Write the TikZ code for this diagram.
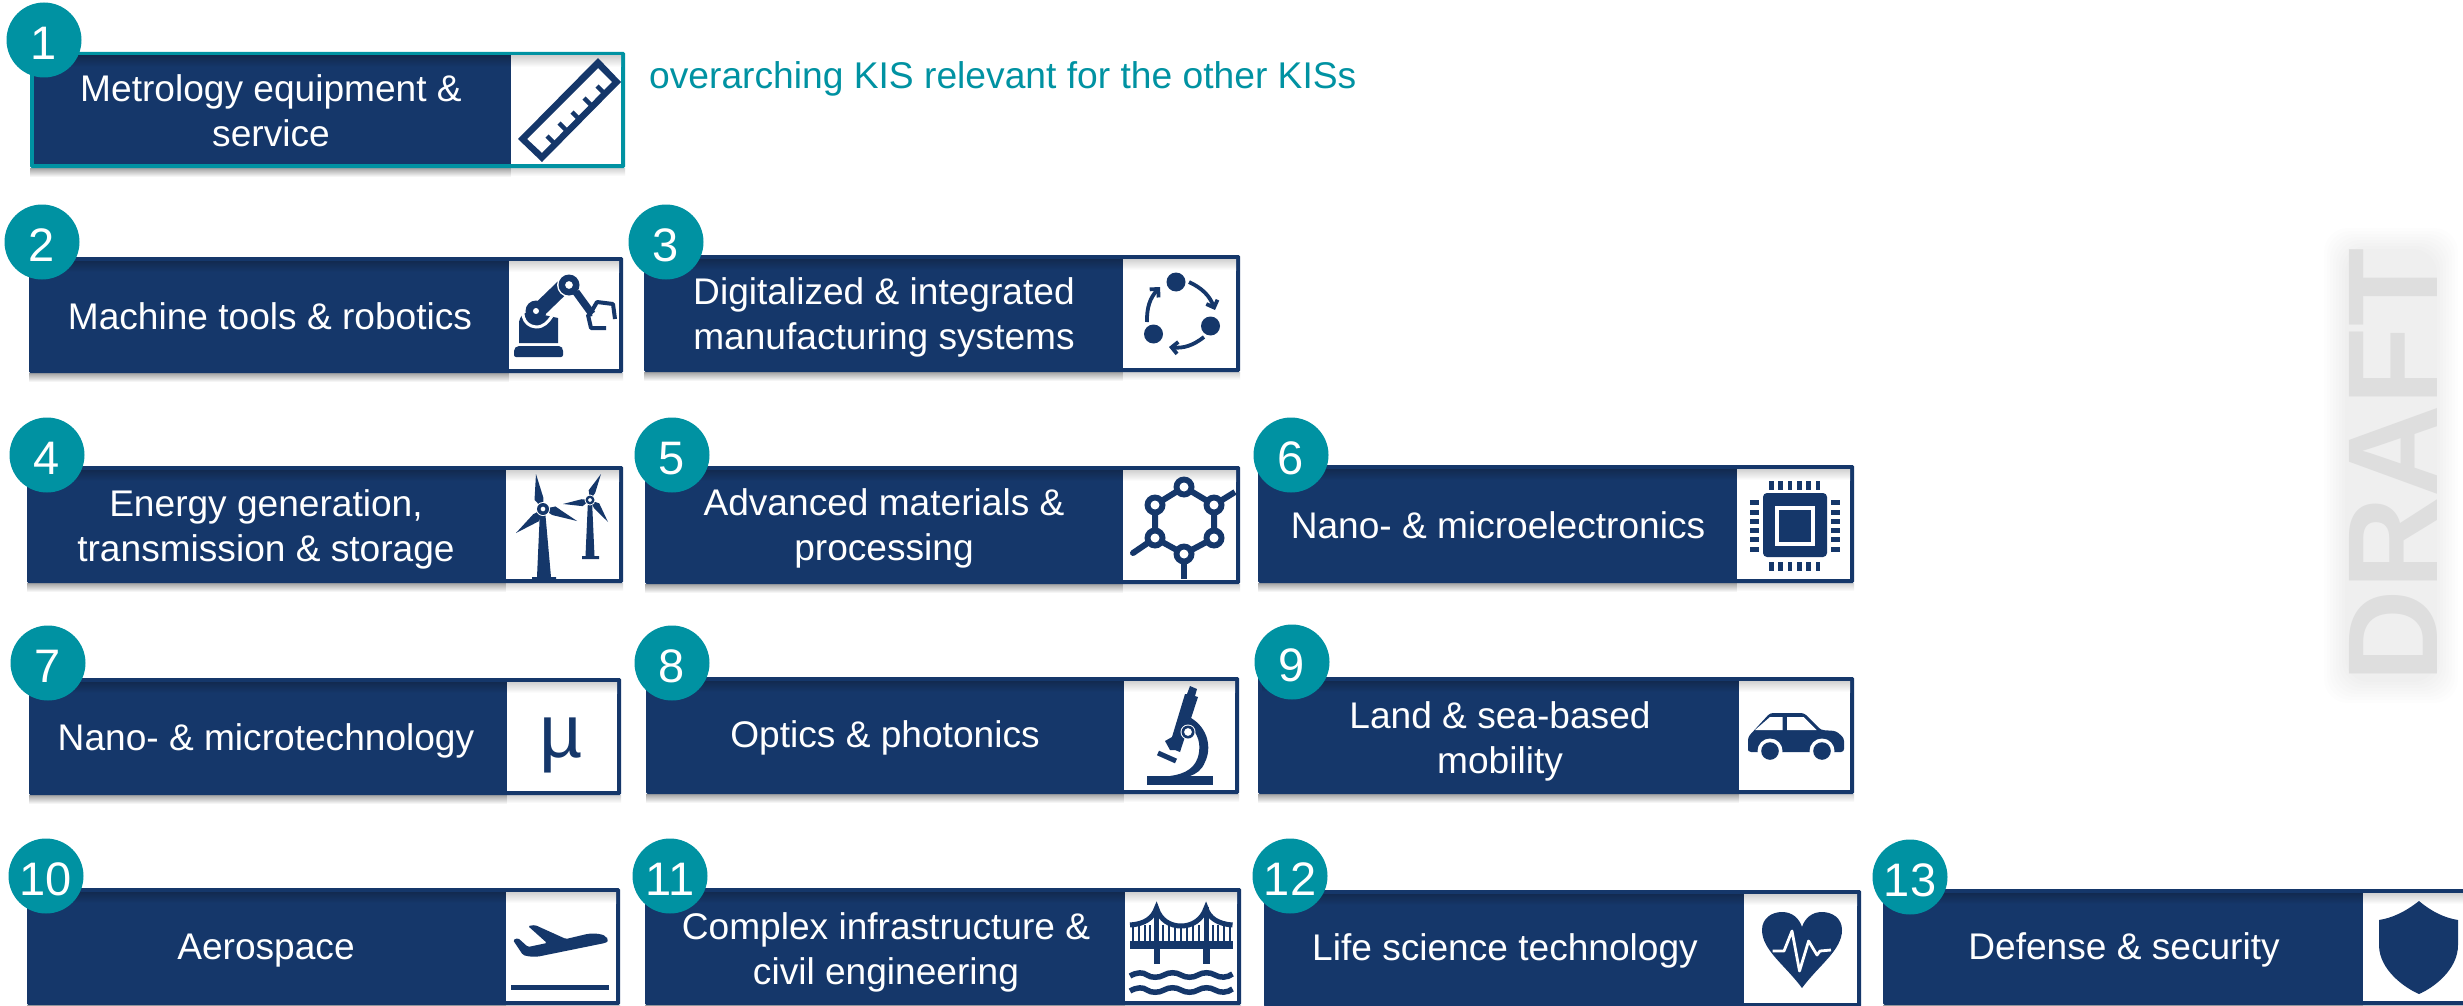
\documentclass[tikz,border=0pt]{standalone}
\usepackage{fontspec}
\setmainfont{Liberation Sans}
\usetikzlibrary{calc,arrows.meta,shapes.geometric}
\definecolor{navy}{HTML}{15376A}
\definecolor{navydark}{HTML}{122A50}
\definecolor{teal1}{HTML}{0092A2}
\definecolor{draftgray}{HTML}{DEDEDE}
\tikzset{
  numdot/.style={circle,fill=teal1,text=white,minimum size=75pt,inner sep=0pt,text height=39pt,text depth=0pt,font=\fontsize{47}{47}\selectfont},
  kislabel/.style={text=white,align=center,inner sep=0pt,anchor=base,yshift=-1.5pt,font=\fontsize{37.1}{45}\selectfont},
  halo/.style={fill=black,fill opacity=.009},
}
\newcommand{\kisbox}[6]{%
  \shade[top color=black!36,bottom color=white] (#1,#4) rectangle (#5,#4+9);
  \shade[top color=black!18,bottom color=white] (#5,#4) rectangle (#3,#4+8);
  \fill[#6,rounded corners=1.5pt] (#1,#2) rectangle (#3,#4);
  \fill[navy] (#1+4,#2+4) rectangle (#5,#4-4);
  \shade[top color=navydark,bottom color=navy] (#1+4,#2+4) rectangle (#5,#2+15);
  \fill[white] (#5,#2+4) rectangle (#3-4,#4-4);
  \shade[top color=black!18,bottom color=white] (#5,#2+4) rectangle (#3-4,#2+15);
}
\newcommand{\kistext}[4]{\node[kislabel] (t#1) at (#2,#3) {#4};}
\newcommand{\kisnum}[4]{\node[numdot] (c#1) at (#2,#3) {#4};}
\newcommand{\blade}[5]{\fill[navy] (#1,#2) -- ($(#1,#2)!.3!(#3,#4)!#5!90:(#3,#4)$) -- (#3,#4) -- ($(#1,#2)!.3!(#3,#4)!.4*#5!-90:(#3,#4)$) -- cycle;}
\begin{document}
\begin{tikzpicture}[x=1pt,y=-1pt]
\useasboundingbox (0,0) rectangle (2463,1006);
\fill[white] (0,0) rectangle (2463,1006);

% DRAFT halo and word
\foreach \h in {0,3,...,21}
  \fill[halo,rounded corners=24pt] (2324+\h,228+\h) rectangle (2458-\h,703-\h);
\node[rotate=90,text=draftgray,inner sep=0pt,font=\fontsize{128}{128}\selectfont\bfseries] (draft) at (2393,465.5) {DRAFT};

% boxes
\kisbox{30}{52}{625}{168}{511}{teal1}
\kisbox{29}{257}{623}{373}{509}{navy}
\kisbox{644}{255}{1240}{372}{1123}{navy}
\kisbox{27}{466}{623}{583}{506}{navy}
\kisbox{645}{466}{1240}{584}{1123}{navy}
\kisbox{1258}{465}{1854}{583}{1737}{navy}
\kisbox{29}{678}{621}{795}{507}{navy}
\kisbox{646}{677}{1239}{794}{1124}{navy}
\kisbox{1258}{677}{1854}{794}{1739}{navy}
\kisbox{27}{888}{620}{1005}{506}{navy}
\kisbox{645}{888}{1241}{1005}{1125}{navy}
\kisbox{1264}{890}{1861}{1007}{1744}{navy}
\kisbox{1883}{889}{2475}{1005}{2363}{navy}

% labels
\kistext{1}{271}{145}{Metrology equipment \&\\service}
\kistext{2}{270}{328}{Machine tools \& robotics}
\kistext{3}{884}{348}{Digitalized \& integrated\\manufacturing systems}
\kistext{4}{266}{560}{Energy generation,\\transmission \& storage}
\kistext{5}{884}{559}{Advanced materials \&\\processing}
\kistext{6}{1498}{537}{Nano- \& microelectronics}
\kistext{7}{266}{749}{Nano- \& microtechnology}
\kistext{8}{885}{746}{Optics \& photonics}
\kistext{9}{1500}{772}{Land \& sea-based\\mobility}
\kistext{10}{266}{958}{Aerospace}
\kistext{11}{886}{983}{Complex infrastructure \&\\civil engineering}
\kistext{12}{1505}{959}{Life science technology}
\kistext{13}{2124}{958}{Defense \& security}

\node[text=teal1,inner sep=0pt,anchor=base west,font=\fontsize{37.2}{45}\selectfont] (over) at (649,88.5) {overarching KIS relevant for the other KISs};

% numbers
\kisnum{1}{44}{40}{1}
\kisnum{2}{42}{242}{2}
\kisnum{3}{666}{242}{3}
\kisnum{4}{47}{455}{4}
\kisnum{5}{672}{455}{5}
\kisnum{6}{1291}{455}{6}
\kisnum{7}{48}{663}{7}
\kisnum{8}{672}{663}{8}
\kisnum{9}{1292}{662}{9}
\kisnum{10}{46}{876}{10}
\kisnum{11}{670}{876}{11}
\kisnum{12}{1290}{876}{12}
\kisnum{13}{1910}{877}{13}

% ruler
\fill[navy,even odd rule] (598,58) -- (621,82) -- (542,162) -- (518,139) -- cycle
  (598,68) -- (612,82) -- (542,153) -- (527,139) -- cycle;
\foreach \a/\b in {597/86,584/98,572/112,559/123,547/136}
  \draw[navy,line width=4.5pt] (\a,\b) -- (\a+7,\b+7);

% robot
\fill[navy,rounded corners=2pt] (514,357) -- (514,349) -- (517,346) -- (561,346) -- (563,349) -- (563,357) -- cycle;
\fill[navy] (519,343) -- (519,322) .. controls (520,316) and (524,312) .. (530,312) -- (558,318) -- (558,343) -- cycle;
\draw[white,line width=3pt] (526,302) .. controls (520,310) and (522,326) .. (536,327) .. controls (544,327) and (548,322) .. (552,316);
\draw[navy,line width=15pt] (538,311) -- (567,283);
\fill[navy] (536,311) circle (10.5);
\fill[white] (536,311) circle (3);
\fill[white] (569,285) circle (12);
\fill[navy,even odd rule] (569,285) circle (10.5) (569,285) circle (4);
\draw[navy,line width=7.5pt] (576,292) -- (592,314);
\draw[navy,line width=4pt,line join=round] (590,314) -- (597,302) -- (613,304) -- (615,319);
\draw[navy,line width=4pt,line join=round] (592,314) -- (588,315) -- (591,328) -- (606,328);

% cycle
\fill[navy] (1176,282) circle (9.5);
\fill[navy] (1210.5,326) circle (9.5);
\fill[navy] (1153.5,334) circle (9.5);
\draw[navy,line width=3.8pt,-{Straight Barb[length=6pt,width=12pt]}] (1189,282) to[bend left=22] (1215,310);
\draw[navy,line width=3.8pt,-{Straight Barb[length=6pt,width=12pt]}] (1204,337) to[bend left=22] (1169,347);
\draw[navy,line width=3.8pt,-{Straight Barb[length=6pt,width=12pt]}] (1147,322) to[bend left=22] (1160,287);

% turbines
\fill[navy] (540,510) -- (545,510) -- (551,577) -- (556,577) -- (556,580) -- (532,580) -- (532,577) -- (537,577) -- cycle;
\blade{543}{509}{536}{474}{6.5pt}
\blade{543}{509}{577}{521}{6.5pt}
\blade{543}{509}{516}{533}{6.5pt}
\fill[white] (543,509) circle (7);
\fill[navy,even odd rule] (543,509) circle (6) (543,509) circle (2.5);
\fill[navy] (588,500) -- (592,500) -- (594.5,556) -- (599,556) -- (599,559) -- (582,559) -- (582,556) -- (585.5,556) -- cycle;
\blade{590}{500}{601}{474}{5pt}
\blade{590}{500}{563}{504}{5pt}
\blade{590}{500}{608}{522}{5pt}
\fill[white] (590,500) circle (5.5);
\fill[navy,even odd rule] (590,500) circle (4.5) (590,500) circle (2);

% molecule
\coordinate (m1) at (1184,487); \coordinate (m2) at (1214,505); \coordinate (m3) at (1214,538);
\coordinate (m4) at (1184,554); \coordinate (m5) at (1155,538); \coordinate (m6) at (1155,505);
\draw[navy,line width=6pt] (m1)--(m2)--(m3)--(m4)--(m5)--(m6)--cycle;
\draw[navy,line width=6pt] (m2)--(1235,492);
\draw[navy,line width=6pt,line cap=round] (m5)--(1133,553);
\draw[navy,line width=6pt] (m4)--(1184,579);
\foreach \c in {m1,m2,m3,m4,m5,m6}{
  \fill[navy] (\c) circle (10.5);
  \fill[white] (\c) circle (4.5);
}

% chip
\fill[navy,rounded corners=4pt] (1763,493) rectangle (1827,557);
\draw[white,line width=4pt] (1777,508) rectangle (1813,544);
\foreach \a in {1769,1778.3,1787.7,1797,1806.3,1815.7}{
  \fill[navy] (\a,481) rectangle (\a+4.7,490);
  \fill[navy] (\a,562) rectangle (\a+4.7,571);
}
\foreach \b in {500,510,519.3,528.3,537.3,547.3}{
  \fill[navy] (1750,\b) rectangle (1759,\b+4.7);
  \fill[navy] (1831,\b) rectangle (1840,\b+4.7);
}

% micro sign
\node[text=navy,inner sep=0pt,anchor=base,font=\fontsize{75}{75}\selectfont] (mu) at (561,757) {µ};

% microscope
\fill[navy] (1147,776) rectangle (1213,785);
\fill[navy] (1190,686) -- (1197,689) -- (1195,696) -- (1198,697) -- (1180,752) -- (1175,750) -- (1173,750) -- (1170,750) -- (1165,741) -- (1172,737) -- (1185,694) -- (1187,694) -- cycle;
\draw[navy,line width=5pt] (1158,753) -- (1176,761);
\fill[navy] (1191,718) .. controls (1208,728) and (1212,748) .. (1205,762) .. controls (1202,770) and (1196,774) .. (1190,776) -- (1170,776) .. controls (1185,774) and (1197,768) .. (1199,752) .. controls (1201,740) and (1195,730) .. (1188,725) -- cycle;
\fill[white] (1188,732) circle (7.5);
\fill[navy,even odd rule] (1188,732) circle (6.5) (1188,732) circle (4);

% car
\fill[navy,rounded corners=3pt] (1748,748) -- (1748,737) -- (1770,713) -- (1804,713) -- (1821,730) -- (1836,731) -- (1844,738) -- (1844,752) -- (1748,752) -- cycle;
\fill[white] (1770,751) circle (12.5);
\fill[white] (1822,751) circle (12.5);
\fill[white] (1745,753) rectangle (1850,756);
\fill[navy] (1770,751) circle (8.8);
\fill[navy] (1822,751) circle (8.8);
\fill[white] (1755,730) -- (1770,717) -- (1782.5,717) -- (1782.5,730) -- cycle;
\fill[white] (1787,717) -- (1803.5,717) -- (1816.5,730) -- (1787,730) -- cycle;

% plane
\fill[navy,rounded corners=1.5pt] (607,939) .. controls (605,934) and (595,933) .. (587,934) -- (566,939) -- (535,925) -- (528,926) -- (547,943) -- (528,947) -- (518,938) -- (513,940) -- (523,955) .. controls (530,957) and (536,957) .. (541,956) -- (605,943) .. controls (607,942) and (608,941) .. (607,939) -- cycle;
\fill[navy] (511,985) rectangle (609,990);

% bridge
\fill[navy] (1130,941) rectangle (1232.5,949);
\fill[navy] (1153.5,949) rectangle (1160,964);
\fill[navy] (1202.6,949) rectangle (1210,964);
\fill[navy] (1154,907) rectangle (1159,941);
\fill[navy] (1203.5,907) rectangle (1208.5,941);
\draw[navy,line width=5pt] (1130,925) .. controls (1145,924) and (1153,918) .. (1156.5,908) .. controls (1160,920) and (1170,926) .. (1181,926) .. controls (1192,926) and (1202,920) .. (1206,908) .. controls (1209,918) and (1218,924) .. (1232.5,925);
\foreach \a in {1133,1139,1145,1150,1163,1169,1175,1181,1187,1193,1199,1213,1218,1224,1230}
  \draw[navy,line width=2.6pt] (\a,925) -- (\a,941);
\foreach \b in {975,990}
  \draw[navy,line width=5.5pt] (1130,\b+1) .. controls (1137,\b-3) and (1143,\b-3) .. (1147,\b) .. controls (1151,\b+3) and (1159,\b+3) .. (1164,\b) .. controls (1169,\b-3) and (1176,\b-3) .. (1181,\b) .. controls (1186,\b+3) and (1193,\b+3) .. (1198,\b) .. controls (1203,\b-3) and (1210,\b-3) .. (1215,\b) .. controls (1220,\b+3) and (1227,\b+3) .. (1232.5,\b-1);

% heart
\fill[navy] (1802,988) .. controls (1785,965) and (1762,950) .. (1762,930) .. controls (1762,918) and (1772,912) .. (1782,912) .. controls (1792,912) and (1799,918) .. (1802,927) .. controls (1805,918) and (1812,912) .. (1822,912) .. controls (1832,912) and (1842,918) .. (1842,930) .. controls (1842,950) and (1819,965) .. (1802,988) -- cycle;
\draw[white,line width=2.8pt,line join=round] (1772.6,951) -- (1784,951) -- (1792,931) -- (1799.5,971) -- (1808.6,941) -- (1817,955) -- (1820,951) -- (1831,950);

% shield
\fill[navy] (2419,901) .. controls (2405,912) and (2392,918) .. (2379,920) -- (2379,945) .. controls (2379,970) and (2405,988) .. (2419,994) .. controls (2433,988) and (2458,970) .. (2458,945) -- (2458,920) .. controls (2445,918) and (2432,912) .. (2419,901) -- cycle;
\end{tikzpicture}
\end{document}
